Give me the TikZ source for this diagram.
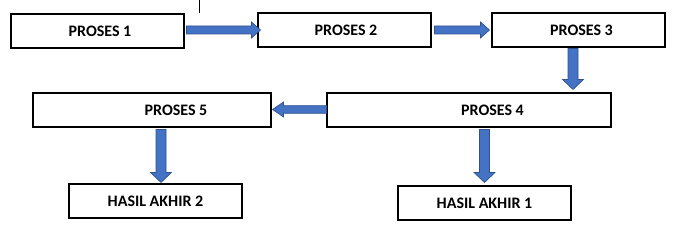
\documentclass[tikz,border=0pt]{standalone}
\usepackage{fontspec}
\setmainfont{Carlito}
\usetikzlibrary{calc}
\definecolor{afill}{HTML}{4472C4}
\definecolor{aedge}{HTML}{2F528F}
\tikzset{
  box/.style={draw=black, line width=1.1pt, inner sep=0pt, minimum height=34pt,
    font=\fontsize{16}{19}\selectfont\bfseries},
  blockarrowstyle/.style={draw=aedge, fill=afill, line width=0.7pt, line join=miter},
}
% #1 start, #2 end, #3 half body width, #4 half head width, #5 head length
\newcommand\blockarr[5]{%
  \path (#1) coordinate (bs) (#2) coordinate (be);
  \path ($(be)!#5!(bs)$) coordinate (bb);
  \draw[blockarrowstyle] ($(bs)!#3!90:(be)$) -- ($(bb)!#3!90:(be)$) -- ($(bb)!#4!90:(be)$)
    -- (be) -- ($(bb)!#4!-90:(be)$) -- ($(bb)!#3!-90:(be)$) -- ($(bs)!#3!-90:(be)$) -- cycle;
}
\begin{document}
\begin{tikzpicture}[x=1pt,y=-1pt]
\useasboundingbox (0,0) rectangle (679,238);
\fill[white] (0,0) rectangle (679,238);
% stray line
\coordinate (s1) at (199,0);
\coordinate (s2) at (199,13);
\draw[line width=0.8pt] (s1) -- (s2);
% boxes
\node[box, minimum width=173pt] (p1) at (97.5,31) {\hspace*{5pt}PROSES 1};
\node[box, minimum width=173pt] (p2) at (344.5,30) {\hspace*{3pt}PROSES 2};
\node[box, minimum width=173pt] (p3) at (578.5,30) {\hspace*{6pt}PROSES 3};
\node[box, minimum width=284pt] (p4) at (469,110) {\hspace*{47pt}PROSES 4};
\node[box, minimum width=238pt] (p5) at (152,110) {\hspace*{48pt}PROSES 5};
\node[box, minimum width=173pt] (h2) at (155.5,201) {HASIL AKHIR 2};
\node[box, minimum width=173pt] (h1) at (484.5,203) {HASIL AKHIR 1};
% arrows
\blockarr{$(p1.east)+(2,-1)$}{$(p2.west)+(3,0)$}{4pt}{8pt}{9pt}
\blockarr{$(p2.east)+(3,0)$}{$(p3.west)+(-2,0)$}{4pt}{8pt}{9pt}
\blockarr{$(p3.south)+(-5.5,1)$}{$(p3.south |- p4.north)+(-5.5,-3)$}{5pt}{10.5pt}{10pt}
\blockarr{$(p4.west)+(0,-0.5)$}{$(p5.east)+(1,-0.5)$}{3.8pt}{7.5pt}{11pt}
\blockarr{$(p5.south)+(9,2)$}{$(p5.south |- h2.north)+(9,-1)$}{5pt}{10.5pt}{10pt}
\blockarr{$(h1.north |- p4.south)+(0,2)$}{$(h1.north)+(0,-3)$}{5pt}{10.5pt}{10pt}
\end{tikzpicture}
\end{document}
